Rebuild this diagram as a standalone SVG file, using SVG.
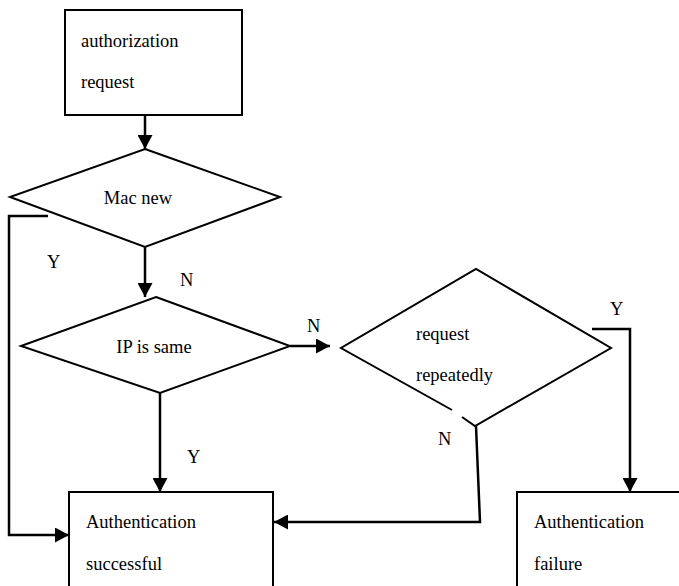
<svg xmlns="http://www.w3.org/2000/svg" width="679" height="586" viewBox="0 0 679 586">
<style>
.s{fill:#fff;stroke:#000;stroke-width:2}
.c{fill:none;stroke:#000;stroke-width:2.5}
text{font-family:"Liberation Serif","DejaVu Serif",serif;font-size:18.5px;fill:#000}
</style>
<defs>
<marker id="ah" markerUnits="userSpaceOnUse" markerWidth="15" markerHeight="15" refX="14" refY="7.5" orient="auto">
<path d="M0,0 L14,7.5 L0,15 z" fill="#000"/>
</marker>
</defs>
<rect width="679" height="586" fill="#fff"/>
<g id="auth">
<rect class="s" x="65" y="10" width="177" height="105"/>
<text x="81" y="47">authorization</text>
<text x="81" y="88">request</text>
</g>
<g id="macnew">
<polygon class="s" points="145,149 280,197 145,247 10,197"/>
<text x="138" y="204" text-anchor="middle">Mac new</text>
</g>
<g id="ipsame">
<polygon class="s" points="156,297 290,346 160,393 21,346"/>
<text x="154" y="353" text-anchor="middle">IP is same</text>
</g>
<g id="reqrep">
<path class="s" d="M452,410 L341,348 L476,269 L611,348 L475,426 L462,417"/>
<text x="416" y="340">request</text>
<text x="416" y="381">repeatedly</text>
</g>
<g id="success">
<rect class="s" x="69" y="492" width="204" height="110"/>
<text x="86" y="528">Authentication</text>
<text x="86" y="570">successful</text>
</g>
<g id="failure">
<rect class="s" x="517" y="492" width="180" height="110"/>
<text x="534" y="528">Authentication</text>
<text x="534" y="570">failure</text>
</g>
<g id="connectors">
<path class="c" d="M145,115 V149" marker-end="url(#ah)"/>
<path class="c" d="M48,216 H9 V535 H69" marker-end="url(#ah)"/>
<path class="c" d="M145,247 V297" marker-end="url(#ah)"/>
<path class="c" d="M290,346 H330" marker-end="url(#ah)"/>
<path class="c" d="M160,393 V492" marker-end="url(#ah)"/>
<path class="c" d="M476,426 L480,522 H274" marker-end="url(#ah)"/>
<path class="c" d="M592,329 H630 V492" marker-end="url(#ah)"/>
<text x="47" y="268">Y</text>
<text x="180" y="286">N</text>
<text x="307" y="332">N</text>
<text x="187" y="463">Y</text>
<text x="438" y="445">N</text>
<text x="610" y="315">Y</text>
</g>
</svg>
